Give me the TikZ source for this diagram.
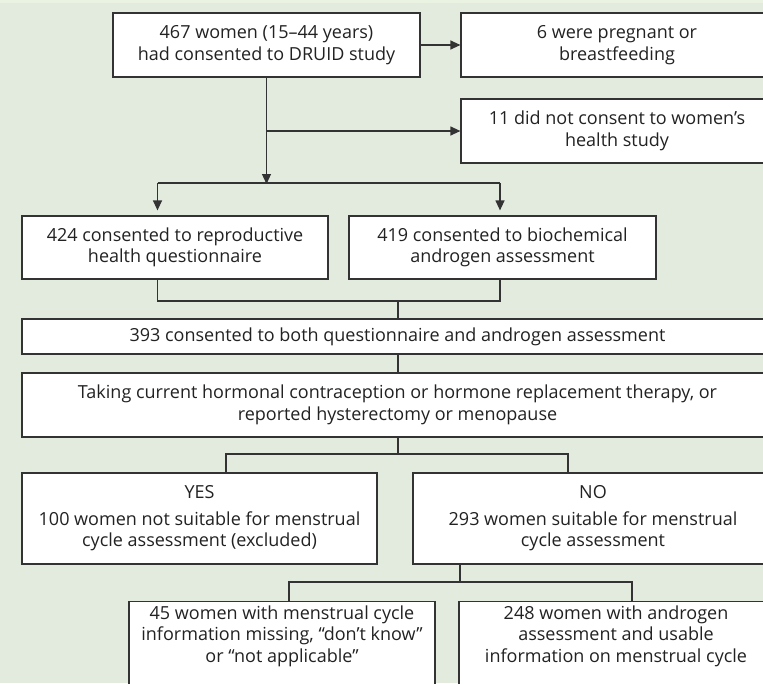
\documentclass[tikz,border=0pt]{standalone}
\usepackage{fontspec}
\setmainfont{Open Sans}
\usetikzlibrary{arrows.meta}
\definecolor{bg}{HTML}{E3EBDF}
\definecolor{bgtop}{HTML}{EAF3E2}
\definecolor{ln}{HTML}{333333}
\definecolor{tx}{HTML}{222222}
\tikzset{
  box/.style={draw=ln, fill=white, line width=1.2pt, inner sep=0pt, align=center,
    text=tx, font=\fontsize{18}{21.5}\selectfont},
  conn/.style={draw=ln, line width=1.2pt},
  arr/.style={conn, -{Triangle[length=10pt,width=9pt]}}
}
\begin{document}
\begin{tikzpicture}[x=1pt,y=-1pt]
\useasboundingbox (0,0) rectangle (763,683);
\fill[bg] (0,0) rectangle (763,683);
\fill[bgtop] (0,0) rectangle (763,3);
% boxes
\node[box, minimum width=307pt, minimum height=64pt] (A) at (266.5,45) {467 women (15--44 years)\\had consented to DRUID study};
\node[box, minimum width=312pt, minimum height=64pt] (B) at (617,45) {6 were pregnant or\\breastfeeding};
\node[box, minimum width=312pt, minimum height=64pt] (C) at (617,131) {11 did not consent to women’s\\health study};
\node[box, minimum width=306pt, minimum height=63pt] (D) at (175,247.5) {424 consented to reproductive\\health questionnaire};
\node[box, minimum width=307pt, minimum height=63pt] (E) at (502.5,247.5) {419 consented to biochemical\\androgen assessment};
\node[box, minimum width=751pt, minimum height=35pt] (F) at (397.5,336.5) {393 consented to both questionnaire and androgen assessment};
\node[box, minimum width=751pt, minimum height=64pt] (G) at (397.5,405) {Taking current hormonal contraception or hormone replacement therapy, or\\reported hysterectomy or menopause};
\node[box, minimum width=355pt, minimum height=91pt] (H) at (199.5,518.5) {YES\\[5pt]100 women not suitable for menstrual\\cycle assessment (excluded)};
\node[box, minimum width=360pt, minimum height=91pt] (I) at (593,518.5) {NO\\[5pt]293 women suitable for menstrual\\cycle assessment};
\node[box, minimum width=306pt, minimum height=100pt, anchor=north] (J) at (282,601) {45 women with menstrual cycle\\information missing, “don’t know”\\or “not applicable”\\[14pt]};
\node[box, minimum width=314pt, minimum height=100pt, anchor=north] (K) at (616,601) {248 women with androgen\\assessment and usable\\information on menstrual cycle\\[14pt]};
% connectors
\draw[arr] (A.east) -- (B.west);
\coordinate (s1) at (266.5,183);
\draw[conn] (A.south) -- (s1);
\draw[arr] (A.south |- C.west) -- (C.west);
\draw[arr] (A.south) -- ([yshift=-1pt]s1);
\coordinate (bl) at (157.5,183);
\coordinate (br) at (500,183);
\draw[conn] (bl) -- (br);
\draw[arr, shorten >=5pt] (bl) -- (bl |- D.north);
\draw[arr, shorten >=5pt] (br) -- (br |- E.north);
\coordinate (ml) at (157.5,301);
\coordinate (mr) at (500,301);
\draw[conn] (ml |- D.south) -- (ml) -- (mr) -- (mr |- E.south);
\draw[conn] (398,301) -- (398,319);
\draw[conn] (F.south -| 398,0) -- (G.north -| 398,0);
\coordinate (gl) at (226,454);
\coordinate (gr) at (568,454);
\draw[conn] (G.south -| 398,0) -- (398,454);
\draw[conn] (gl |- H.north) -- (gl) -- (gr) -- (gr |- I.north);
\coordinate (il) at (289,582);
\coordinate (ir) at (632,582);
\draw[conn] (I.south -| 460,0) -- (460,582);
\draw[conn] (il |- J.north) -- (il) -- (ir) -- (ir |- K.north);
\end{tikzpicture}
\end{document}
